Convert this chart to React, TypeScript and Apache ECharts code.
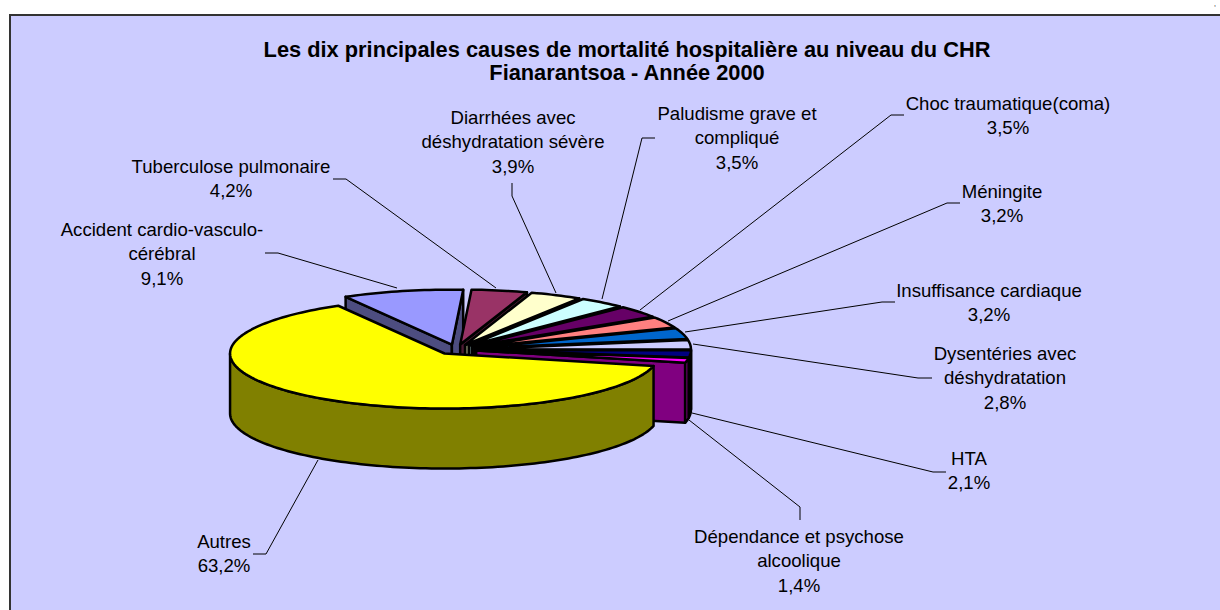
import React, { useEffect, useRef } from "react";
import * as echarts from "echarts";

const titleLines = [
  "Les dix principales causes de mortalité hospitalière au niveau du CHR",
  "Fianarantsoa - Année 2000",
];
const categories = [
  "Accident cardio-vasculo-\ncérébral",
  "Tuberculose pulmonaire",
  "Diarrhées avec\ndéshydratation sévère",
  "Paludisme grave et\ncompliqué",
  "Choc traumatique(coma)",
  "Méningite",
  "Insuffisance cardiaque",
  "Dysentéries avec\ndéshydratation",
  "HTA",
  "Dépendance et psychose\nalcoolique",
  "Autres",
];
const values = [9.1, 4.2, 3.9, 3.5, 3.5, 3.2, 3.2, 2.8, 2.1, 1.4, 63.2];
const topColors = ["#9999FF", "#993366", "#FFFFCC", "#CCFFFF", "#660066", "#FF8080", "#0066CC", "#CCCCFF", "#000080", "#FF00FF", "#FFFF00"];
const sideColors = ["#4D4D80", "#4D1A33", "#808066", "#668080", "#330033", "#804040", "#003366", "#666680", "#000040", "#800080", "#808000"];

// label centre (x, y of first line) and leader polyline, in page pixels
const labelAnchors = [
  [162, 229], [231, 166], [513, 117], [737, 113], [1008, 103], [1002, 191],
  [989, 290], [1005, 353], [969, 458], [799, 536], [224, 541],
];
const leaders = [
  [[265, 253], [278, 253], [397, 288]],
  [[333, 179], [346, 179], [496, 288]],
  [[512, 183], [512, 196], [556, 293]],
  [[655, 138], [642, 138], [602, 299]],
  [[904, 115], [891, 115], [640, 310]],
  [[960, 203], [947, 203], [668, 321]],
  [[895, 302], [882, 302], [685, 332]],
  [[932, 378], [918, 378], [693, 344]],
  [[946, 472], [933, 472], [692, 413]],
  [[800, 520], [800, 507], [689, 420]],
  [[253, 554], [266, 554], [318, 460]],
];

const CX = 456.5, CY = 349.5, RX = 214.5, RY = 55, DEPTH = 60;
const EXPLODE_X = 20, EXPLODE_Y = 5;
const START_ANGLE = 240.3;
const FONT = '"Liberation Sans", Arial, sans-serif';

const total = values.reduce((a, b) => a + b, 0);
const rad = (d: number) => (d * Math.PI) / 180;

function arcPoints(ox: number, oy: number, a: number, b: number) {
  const n = Math.max(2, Math.ceil((b - a) / 1.5));
  const pts: number[][] = [];
  for (let i = 0; i <= n; i++) {
    const t = rad(a + ((b - a) * i) / n);
    pts.push([ox + RX * Math.cos(t), oy + RY * Math.sin(t)]);
  }
  return pts;
}

function renderSlice(params: any, api: any) {
  const idx = params.dataIndex;
  let before = 0;
  for (let i = 0; i < idx; i++) before += values[i];
  const a = START_ANGLE + (before / total) * 360;
  const b = a + (api.value(0) / total) * 360;
  const mid = rad((a + b) / 2);
  const ox = CX + EXPLODE_X * Math.cos(mid);
  const oy = CY + EXPLODE_Y * Math.sin(mid);
  const style = (fill: string) => ({ fill, stroke: "#000", lineWidth: 2.5, lineJoin: "round" });
  const children: any[] = [];
  const poly = (points: number[][], fill: string) =>
    children.push({ type: "polygon", shape: { points }, style: style(fill) });

  const face = (t: number) => {
    const p = [ox + RX * Math.cos(rad(t)), oy + RY * Math.sin(rad(t))];
    poly([[ox, oy], p, [p[0], p[1] + DEPTH], [ox, oy + DEPTH]], sideColors[idx]);
  };
  // cut faces turned towards the viewer
  if (-Math.cos(rad(a)) > 0) face(a);
  if (Math.cos(rad(b)) > 0) face(b);
  // outer wall: only the front half of the ellipse
  [[0, 180], [360, 540]].forEach(([lo, hi]) => {
    const s = Math.max(a, lo), e = Math.min(b, hi);
    if (e > s) {
      const upper = arcPoints(ox, oy, s, e);
      const lower = upper.map((p) => [p[0], p[1] + DEPTH]).reverse();
      poly(upper.concat(lower), sideColors[idx]);
    }
  });
  // top
  poly([[ox, oy], ...arcPoints(ox, oy, a, b)], topColors[idx]);
  return { type: "group", children };
}

const pct = (v: number) => v.toFixed(1).replace(".", ",") + "%";

export default function App() {
  const ref = useRef<HTMLDivElement>(null);
  useEffect(() => {
    const chart = echarts.init(ref.current!, null, { renderer: "svg" });
    chart.setOption({
      animation: false,
      backgroundColor: "#FFFFFF",
      title: {
        text: titleLines.join("\n"),
        left: 622,
        top: 32.5,
        textAlign: "center",
        textStyle: { fontFamily: FONT, fontSize: 21.8, fontWeight: "bold", color: "#000", lineHeight: 23 },
      },
      graphic: {
        elements: [
          {
            type: "rect",
            z: -1,
            shape: { x: 10, y: 15, width: 1300, height: 700 },
            style: { fill: "#CCCCFF", stroke: "#333", lineWidth: 2 },
          },
          ...leaders.map((points) => ({
            type: "polyline",
            shape: { points },
            style: { fill: "none", stroke: "#000", lineWidth: 1 },
          })),
          ...categories.map((name, i) => ({
            type: "text",
            x: labelAnchors[i][0],
            y: labelAnchors[i][1] - 12,
            style: {
              text: name + "\n" + pct(values[i]),
              fill: "#000",
              font: `18.6px ${FONT}`,
              lineHeight: 24.5,
              textAlign: "center",
              textVerticalAlign: "top",
            },
          })),
          { type: "text", x: 1214, y: 0, style: { text: ",", fill: "#000", font: `7px ${FONT}` } },
        ],
      },
      series: [
        {
          type: "custom",
          coordinateSystem: "none",
          renderItem: renderSlice,
          clip: false,
          data: values.map((v, i) => ({ name: categories[i], value: [v] })),
        },
      ],
    });
    return () => chart.dispose();
  }, []);
  return <div ref={ref} style={{ position: "absolute", left: 0, top: 0, width: 1220, height: 610 }} />;
}
